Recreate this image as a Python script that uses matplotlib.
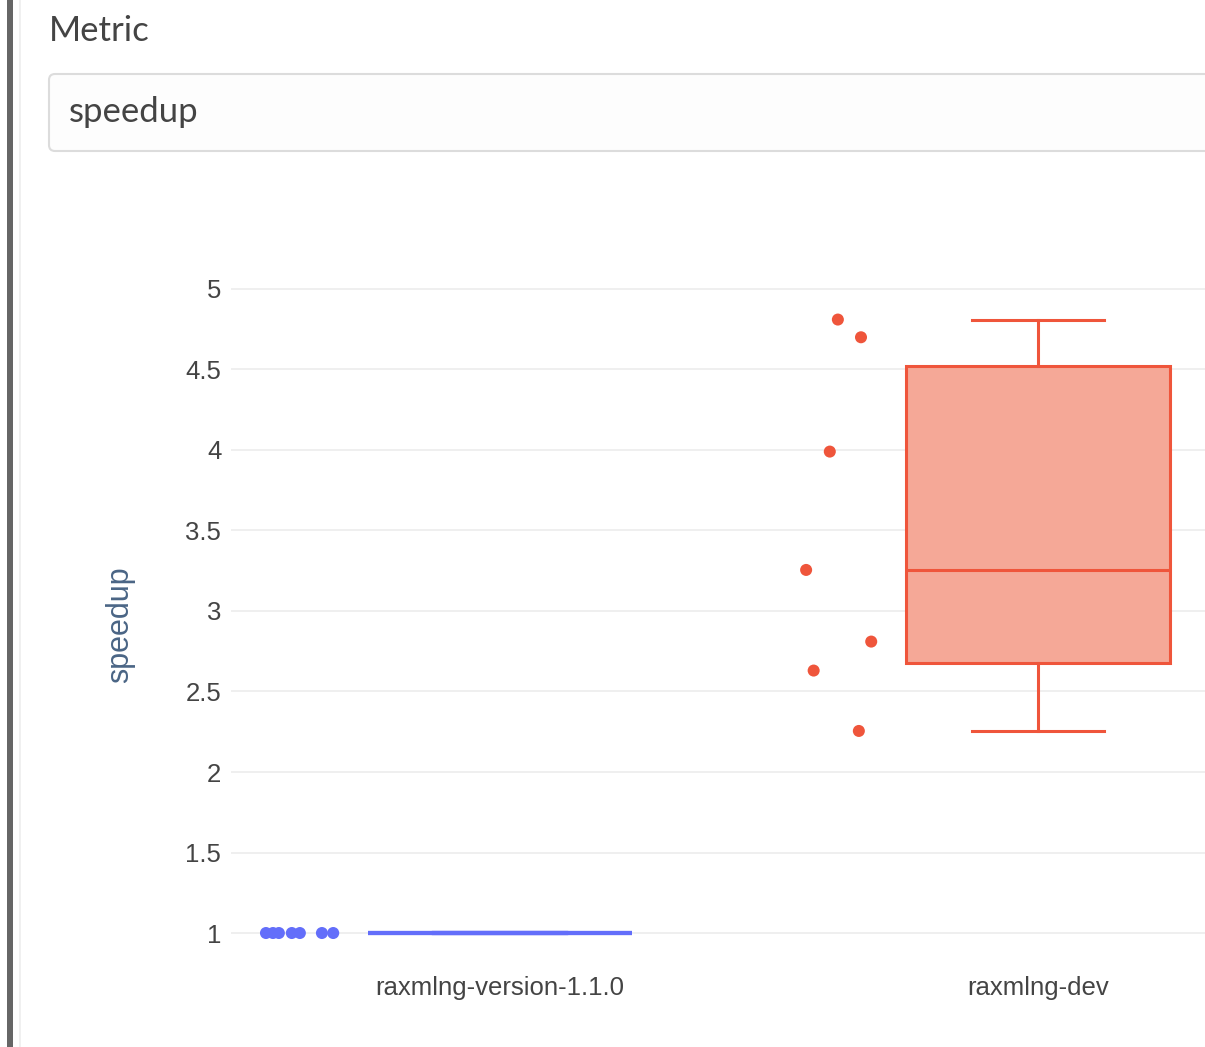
import numpy as np
import matplotlib
matplotlib.use("Agg")
import matplotlib.pyplot as plt
from matplotlib.patches import FancyBboxPatch, Rectangle

# ---- data ---------------------------------------------------------------
categories = ["raxmlng-version-1.1.0", "raxmlng-dev"]
speedup_v110 = [1.0, 1.0, 1.0, 1.0, 1.0, 1.0, 1.0]
speedup_dev = [4.81, 4.70, 3.99, 3.255, 2.81, 2.63, 2.255]
# horizontal jitter of the individual points (category units, left of box)
jitter_v110 = [-0.435, -0.422, -0.411, -0.387, -0.372, -0.331, -0.310]
jitter_dev = [-0.372, -0.329, -0.387, -0.431, -0.310, -0.417, -0.333]
y_ticks = [1, 1.5, 2, 2.5, 3, 3.5, 4, 4.5, 5]
y_tick_labels = ["1", "1.5", "2", "2.5", "3", "3.5", "4", "4.5", "5"]

series = [speedup_v110, speedup_dev]
jitters = [jitter_v110, jitter_dev]
line_colors = ["#636EFA", "#EF553B"]
fill_colors = ["#B1B6FC", "#F5A897"]
line_widths = [3.0, 2.2]

W, H = 1205, 1047
fig = plt.figure(figsize=(W / 100, H / 100), dpi=100)
fig.patch.set_facecolor("white")

# ---- page chrome (pixel coordinates) -------------------------------------
page = fig.add_axes([0, 0, 1, 1], zorder=0)
page.set_xlim(0, W)
page.set_ylim(H, 0)
page.axis("off")
page.add_patch(Rectangle((7, 0), 6, H, facecolor="#666666", edgecolor="none"))
page.add_patch(Rectangle((19, 0), 2, H, facecolor="#f0f0f0", edgecolor="none"))
page.text(49, 31, "Metric", fontsize=25, family="Lato", color="#444444",
          va="center", ha="left")
page.add_patch(FancyBboxPatch((49, 74), 1300, 77,
                              boxstyle="round,pad=0,rounding_size=6",
                              facecolor="#fdfdfd", edgecolor="#dcdcdc",
                              linewidth=1.5))
page.text(69, 112, "speedup", fontsize=25, family="Lato", color="#444444",
          va="center", ha="left")

# ---- box plot ------------------------------------------------------------
def box_stats(values, label):
    v = np.sort(np.asarray(values, dtype=float))
    q1, med, q3 = np.percentile(v, [25, 50, 75], method="hazen")
    iqr = q3 - q1
    lo = v[v >= q1 - 1.5 * iqr].min()
    hi = v[v <= q3 + 1.5 * iqr].max()
    return dict(med=med, q1=q1, q3=q3, whislo=lo, whishi=hi,
                fliers=[], label=label)

ax_left, ax_right = 231, 1307
ax_top, ax_bottom = 288, 962
ax = fig.add_axes([ax_left / W, 1 - ax_bottom / H,
                   (ax_right - ax_left) / W, (ax_bottom - ax_top) / H],
                  zorder=1)
ax.patch.set_alpha(0)

stats = [box_stats(v, c) for v, c in zip(series, categories)]
positions = np.arange(len(categories))
res = ax.bxp(stats, positions=positions, widths=0.49, capwidths=0.245,
             patch_artist=True, showfliers=False, manage_ticks=False)

for i in range(len(categories)):
    lc, fc, lw = line_colors[i], fill_colors[i], line_widths[i]
    res["boxes"][i].set(facecolor=fc, edgecolor=lc, linewidth=lw)
    res["medians"][i].set(color=lc, linewidth=lw)
    for ln in res["whiskers"][2 * i:2 * i + 2] + res["caps"][2 * i:2 * i + 2]:
        ln.set(color=lc, linewidth=lw)
    ax.scatter(positions[i] + np.asarray(jitters[i]), series[i],
               s=75, color=lc, edgecolors="none", zorder=3)

ax.set_xlim(-0.5, 1.5)
ax.set_ylim(0.82, 5.006)
ax.set_yticks(y_ticks)
ax.set_yticklabels(y_tick_labels)
ax.set_xticks(positions)
ax.set_xticklabels(categories)
ax.grid(axis="y", color="#eeeeee", linewidth=1.3, zorder=0)
ax.set_axisbelow(True)
for s in ax.spines.values():
    s.set_visible(False)
ax.tick_params(axis="both", length=0, labelsize=18.5, labelcolor="#444444",
               labelfontfamily="Liberation Sans")
ax.tick_params(axis="y", pad=7)
ax.tick_params(axis="x", pad=10)
ax.set_ylabel("speedup", fontsize=22, color="#4a6585",
              family="Liberation Sans", labelpad=36)

fig.savefig("out.png", dpi=100)
